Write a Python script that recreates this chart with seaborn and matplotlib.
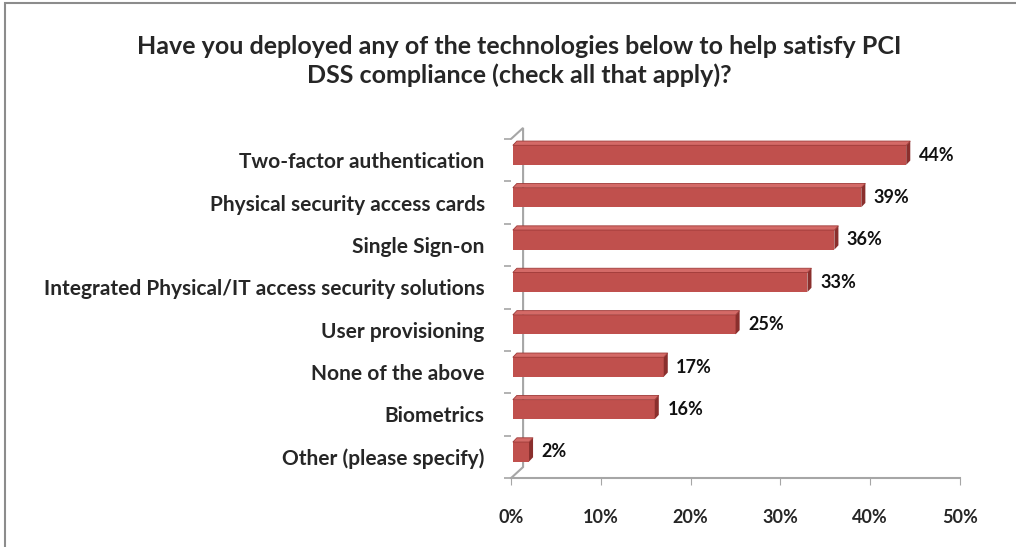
import matplotlib
matplotlib.use("Agg")
import matplotlib.pyplot as plt
import seaborn as sns
import pandas as pd
from matplotlib.patches import Polygon, Rectangle

# data
technologies = [
    "Two-factor authentication",
    "Physical security access cards",
    "Single Sign-on",
    "Integrated Physical/IT access security solutions",
    "User provisioning",
    "None of the above",
    "Biometrics",
    "Other (please specify)",
]
shares = [44, 39, 36, 33, 25, 17, 16, 2]
x_ticks = [0, 10, 20, 30, 40, 50]

df = pd.DataFrame({"tech": technologies, "share": shares})

sns.set_style("white")
plt.rcParams["font.family"] = ["Lato", "DejaVu Sans"]

bar_red = "#C0504D"
side_red = "#8A2F2D"
top_red = "#D46A67"
axis_grey = "#A6A6A6"

fig = plt.figure(figsize=(10.16, 5.47), dpi=100)
ax = fig.add_axes([0.503, 0.126, 0.442, 0.620])

sns.barplot(data=df, x="share", y="tech", color=bar_red, width=0.46,
            saturation=1, ax=ax, edgecolor="none", zorder=2)

# fake 3d depth, built from the bar patches
dx, dy = 0.45, 0.1
lift = 0.12   # bars sit a bit above the floor grid in the 3d view
gap = 0.2     # small gap between the wall and the bars
for p, val in zip(ax.patches[:], shares):
    p.set_y(p.get_y() - lift)
    p.set_x(gap)
    p.set_width(val - gap)
    x1, y0, h = val, p.get_y(), p.get_height()
    side = Polygon([(x1, y0), (x1 + dx, y0 - dy),
                    (x1 + dx, y0 + h - dy), (x1, y0 + h)],
                   closed=True, facecolor=side_red, edgecolor="none", zorder=2)
    top = Polygon([(gap, y0), (gap + dx, y0 - dy),
                   (x1 + dx, y0 - dy), (x1, y0)],
                  closed=True, facecolor=top_red, edgecolor="#9E3A38", lw=0.6, zorder=2)
    ax.add_patch(side)
    ax.add_patch(top)
    ax.text(x1 + 1.4, y0 + h / 2, f"{val}%", va="center",
            ha="left", fontsize=13, fontweight="bold", color="#111111")

n = len(technologies)
ax.set_xlim(0, 50)
ax.set_ylim(n - 0.5, -0.5)
ax.set_xticks(x_ticks)
ax.set_xticklabels([f"{t}%" for t in x_ticks], fontsize=13, fontweight="bold")
ax.set_yticks(range(n))
ax.set_yticklabels(technologies, fontsize=15, fontweight="bold")
ax.set_yticks([k - 0.5 for k in range(n + 1)], minor=True)
ax.set_xlabel("")
ax.set_ylabel("")
ax.tick_params(axis="x", length=5, color=axis_grey, direction="out", pad=17)
ax.tick_params(axis="y", which="major", length=0, pad=19)
ax.tick_params(axis="y", which="minor", length=5, color=axis_grey, width=1.2)
ax.xaxis.set_ticks_position("bottom")
ax.yaxis.set_ticks_position("left")

for s in ["top", "right"]:
    ax.spines[s].set_visible(False)
ax.spines["left"].set_visible(False)
ax.spines["bottom"].set_color(axis_grey)
ax.spines["bottom"].set_linewidth(1.5)

# back wall edge of the 3d frame, behind the bars
wx, wy = 1.34, 0.26
ax.plot([0, wx, wx, 0], [n - 0.5, n - 0.5 - wy, -0.5 - wy, -0.5],
        color=axis_grey, lw=1.5, clip_on=False, solid_joinstyle="miter", zorder=1)

fig.text(0.511, 0.888, "Have you deployed any of the technologies below to help satisfy PCI\n"
         "DSS compliance (check all that apply)?", ha="center", va="center",
         fontsize=18, fontweight="bold", linespacing=1.3)

# chart border (cut off on right and bottom in the reference)
fig.patches.append(Rectangle((0.005, -0.02), 1.1, 1.015, transform=fig.transFigure,
                             fill=False, edgecolor="#8c8c8c", lw=1.5))

fig.savefig("out.png", dpi=100)
